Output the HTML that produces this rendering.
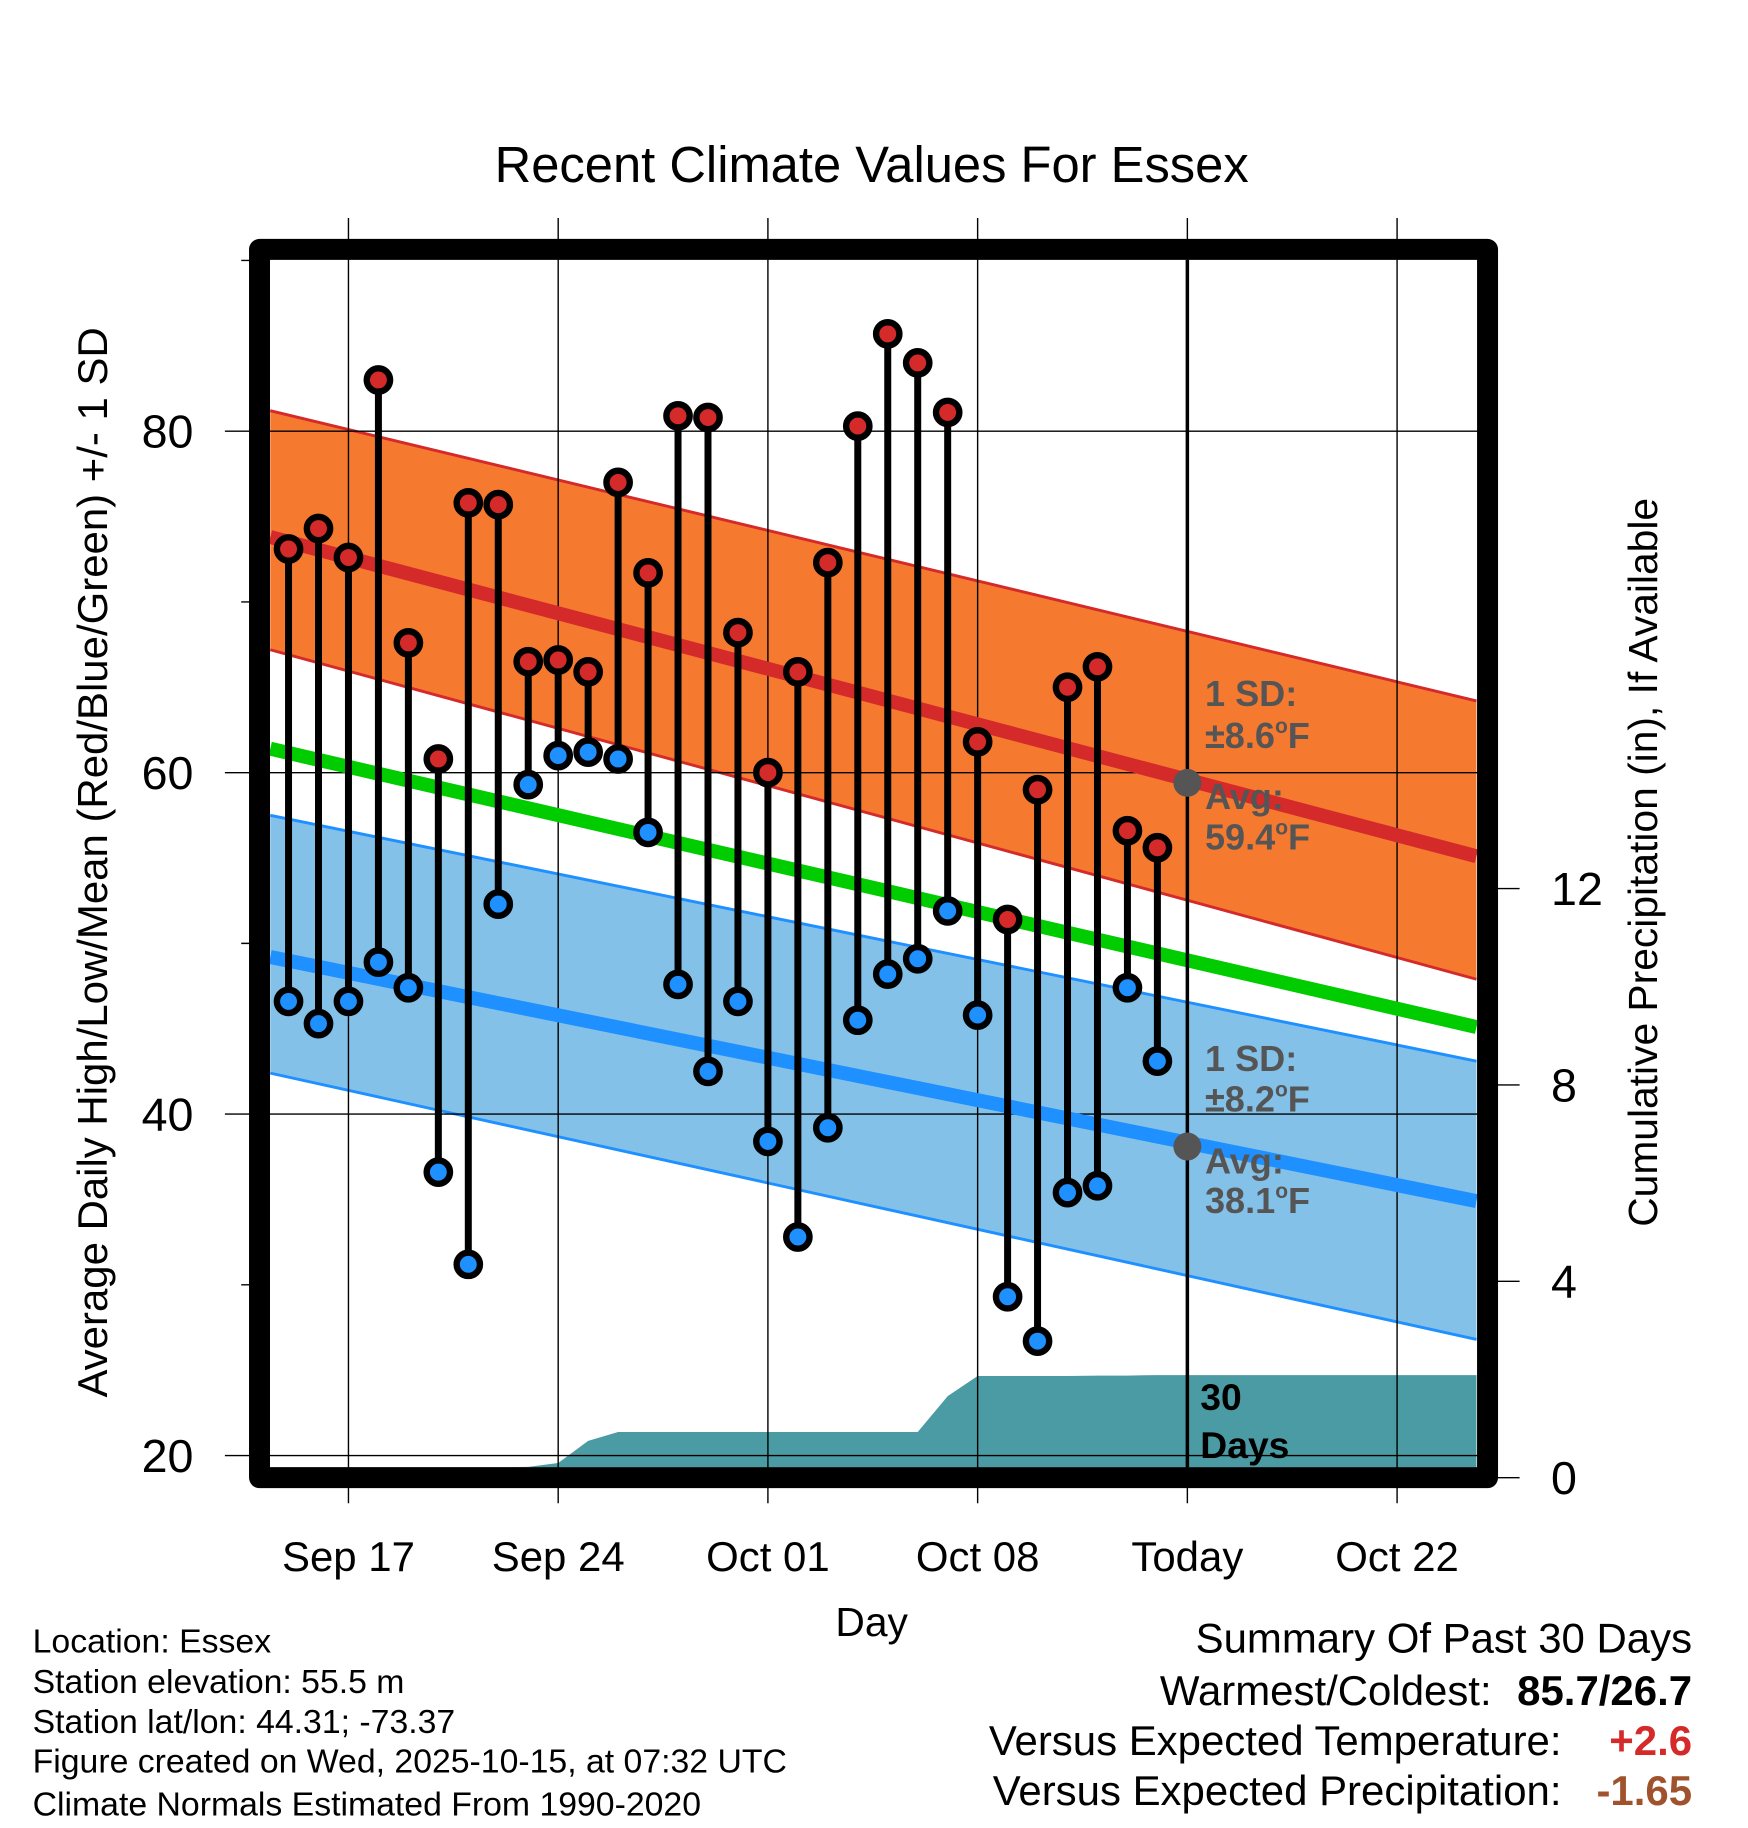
<!DOCTYPE html>
<html><head><meta charset="utf-8"><style>
html,body{margin:0;padding:0;background:#fff}
svg{display:block;font-family:"Liberation Sans",Arial,sans-serif}
</style></head><body>
<svg id="chart" width="1748" height="1828" viewBox="0 0 1500 1568.6" xmlns="http://www.w3.org/2000/svg">
<rect width="1500" height="1568.6" fill="#fff"/>
<text x="748" y="156" font-size="43.5" text-anchor="middle">Recent Climate Values For Essex</text>
<g id="bands"></g>
<g id="precip"></g>
<g id="grid"></g>
<g id="normals"></g>
<g id="marks"></g>
<g id="axes"></g>
<g><text transform="translate(92,740) rotate(-90)" font-size="36" text-anchor="middle">Average Daily High/Low/Mean (Red/Blue/Green) +/- 1 SD</text></g>
<g><text transform="translate(1422,740) rotate(-90)" font-size="35" text-anchor="middle">Cumulative Precipitation (in), If Available</text></g>
<text x="748" y="1404" font-size="35" text-anchor="middle">Day</text>
<g font-size="29">
<text x="28" y="1418">Location: Essex</text>
<text x="28" y="1453">Station elevation: 55.5 m</text>
<text x="28" y="1487">Station lat/lon: 44.31; -73.37</text>
<text x="28" y="1521">Figure created on Wed, 2025-10-15, at 07:32 UTC</text>
<text x="28" y="1558">Climate Normals Estimated From 1990-2020</text>
</g>
<g font-size="36">
<text x="1452" y="1418" text-anchor="end">Summary Of Past 30 Days</text>
<text x="1280" y="1463" text-anchor="end">Warmest/Coldest:</text>
<text x="1452" y="1463" text-anchor="end" font-weight="bold">85.7/26.7</text>
<text x="1340" y="1506" text-anchor="end">Versus Expected Temperature:</text>
<text x="1452" y="1506" text-anchor="end" font-weight="bold" fill="#d42a2a">+2.6</text>
<text x="1340" y="1549" text-anchor="end">Versus Expected Precipitation:</text>
<text x="1452" y="1549" text-anchor="end" font-weight="bold" fill="#a0522d">-1.65</text>
</g>
</svg>
<script>
const highs=[73.1,74.3,72.6,83.0,67.6,60.8,75.8,75.7,66.5,66.6,65.9,77.0,71.7,80.9,80.8,68.2,60.0,65.9,72.3,80.3,85.7,84.0,81.1,61.8,51.4,59.0,65.0,66.2,56.6,55.6];
const lows=[46.6,45.3,46.6,48.9,47.4,36.6,31.2,52.3,59.3,61.0,61.2,60.8,56.5,47.6,42.5,46.6,38.4,32.8,39.2,45.5,48.2,49.1,51.9,45.8,29.3,26.7,35.4,35.8,47.4,43.1];
const precipCum=[0,0,0,0,0,0,0,0,0.22,0.3,0.75,0.93,0.93,0.93,0.93,0.93,0.93,0.93,0.93,0.93,0.93,0.93,1.66,2.07,2.07,2.07,2.07,2.08,2.08,2.09];
const normDays=[-0.61,39.65];
const highMean=[73.8,55.1];const highUp=[81.2,64.2];const highLo=[67.2,47.9];
const meanMean=[61.4,45.1];
const lowMean=[49.2,34.9];const lowUp=[57.5,43.1];const lowLo=[42.4,26.8];
const xTickDays=[2,9,16,23,30,37];
const xTickLabels=["Sep 17","Sep 24","Oct 01","Oct 08","Today","Oct 22"];
const yTicks=[20,40,60,80];const yMinor=[30,50,70,90];
const pTicks=[0,4,8,12];
const todayIdx=30;
const todayHigh=59.4,todayLow=38.1;

const NS="http://www.w3.org/2000/svg";
const X=d=>247.6+25.71*d;
const Y=t=>370-(t-80)*14.65;
const P=p=>1268-p*42.125;
const L=232,R=1267,T=223,B=1259;
function mk(parent,tag,attrs){const e=document.createElementNS(NS,tag);for(const k in attrs)e.setAttribute(k,attrs[k]);document.getElementById(parent).appendChild(e);return e;}
function band(up,lo,fill,edge,name){
  const d0=normDays[0],d1=normDays[1];
  let e=mk('bands','polygon',{points:`${X(d0)},${Y(up[0])} ${X(d1)},${Y(up[1])} ${X(d1)},${Y(lo[1])} ${X(d0)},${Y(lo[0])}`,fill:fill});
  
  
  [up,lo].forEach(a=>{let l=mk('bands','line',{x1:X(d0),y1:Y(a[0]),x2:X(d1),y2:Y(a[1]),stroke:edge,'stroke-width':2.5});
  
  });
}
band(highUp,highLo,'#f57a30','#d42a2a','high-sd-band');
band(lowUp,lowLo,'#84c1e8','#1e90ff','low-sd-band');
let pts=[`${X(0)},${B}`];
precipCum.forEach((p,i)=>pts.push(`${X(i)},${Math.min(B,P(p))}`));
pts.push(`${R},${P(precipCum[precipCum.length-1])}`,`${R},${B}`);
let pa=mk('precip','polygon',{points:pts.join(' '),fill:'#4a9ba3'});


xTickDays.forEach((d,i)=>{
  let g=mk('grid','line',{x1:X(d),y1:187,x2:X(d),y2:1290,stroke:'#000','stroke-width':1.2});
  
  
  let t=mk('axes','text',{x:X(d),y:1348,'font-size':36,'text-anchor':'middle'});t.textContent=xTickLabels[i];
  
  
});
yTicks.forEach(v=>{
  let g=mk('grid','line',{x1:193,y1:Y(v),x2:1283,y2:Y(v),stroke:'#000','stroke-width':1.2});
  
  
  let t=mk('axes','text',{x:166,y:Y(v)+14,'font-size':40,'text-anchor':'end'});t.textContent=v;
  
  
});
yMinor.forEach(v=>{let g=mk('grid','line',{x1:207,y1:Y(v),x2:225,y2:Y(v),stroke:'#000','stroke-width':1.2});
  
  });
pTicks.forEach(v=>{
  let g=mk('axes','line',{x1:1276,y1:P(v),x2:1304,y2:P(v),stroke:'#000','stroke-width':1.2});
  
  
  let t=mk('axes','text',{x:1331,y:P(v)+14,'font-size':40});t.textContent=v;
  
  
});
[[highMean,'#d42a2a','high-normal-line'],[meanMean,'#00cc00','mean-normal-line'],[lowMean,'#1e90ff','low-normal-line']].forEach(([a,c,n])=>{
  let l=mk('normals','line',{x1:X(normDays[0]),y1:Y(a[0]),x2:X(normDays[1]),y2:Y(a[1]),stroke:c,'stroke-width':12});
  
  
});
let tl=mk('normals','line',{x1:X(todayIdx),y1:T,x2:X(todayIdx),y2:B,stroke:'#000','stroke-width':3});


[todayHigh,todayLow].forEach(v=>{let c=mk('normals','circle',{cx:X(todayIdx),cy:Y(v),r:12,fill:'#555'});
  
  });
function ann(txt,y,name){let t=mk('normals','text',{x:1034,y:y,'font-size':31,'font-weight':'bold',fill:'#555'});t.innerHTML=txt;
  
  }
const deg='<tspan dy="-13" font-size="18">o</tspan><tspan dy="13">F</tspan>';
ann('1 SD:',606,'high-sd-label');ann('±8.6'+deg,642,'high-sd-value');
ann('Avg:',694,'high-avg-label');ann('59.4'+deg,729,'high-avg-value');
ann('1 SD:',919,'low-sd-label');ann('±8.2'+deg,954,'low-sd-value');
ann('Avg:',1007,'low-avg-label');ann('38.1'+deg,1041,'low-avg-value');
highs.forEach((h,i)=>{
  let s=mk('marks','line',{x1:X(i),y1:Y(h),x2:X(i),y2:Y(lows[i]),stroke:'#000','stroke-width':6});
  
  
  [[h,'#d42a2a','high-point'],[lows[i],'#1e90ff','low-point']].forEach(([v,c,n])=>{
    let o=mk('marks','circle',{cx:X(i),cy:Y(v),r:10,fill:c,stroke:'#000','stroke-width':5.5});
    
    
  });
});
let d1=mk('axes','text',{x:1030,y:1210,'font-size':32,'font-weight':'bold'});d1.textContent='30';


let d2=mk('axes','text',{x:1030,y:1251,'font-size':32,'font-weight':'bold'});d2.textContent='Days';


let fr=mk('axes','rect',{x:222.7,y:214,width:1053.8,height:1054,fill:'none',stroke:'#000','stroke-width':18,'stroke-linejoin':'round'});


</script>
</body></html>
